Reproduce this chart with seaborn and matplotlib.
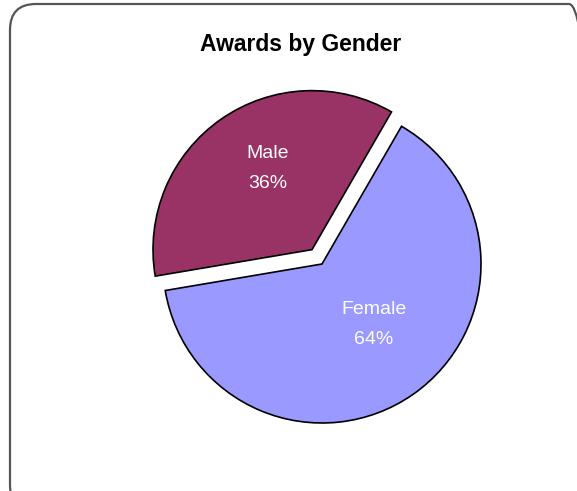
import matplotlib
matplotlib.use("Agg")
import matplotlib.pyplot as plt
import seaborn as sns
import numpy as np
from matplotlib.patches import FancyBboxPatch

categories = ["Male", "Female"]
values = [36, 64]
colors = ["#993366", "#9999FF"]
title = "Awards by Gender"

sns.set_theme(style="white")
plt.rcParams['font.family'] = ['Liberation Sans', 'DejaVu Sans']

W, H = 577, 491
fig = plt.figure(figsize=(W / 100, H / 100), dpi=100)

# rounded border (partly cropped by the figure edge)
border = FancyBboxPatch((10 / W, -20 / H), 585 / W, (H - 4 + 20) / H,
                        boxstyle="round,pad=0,rounding_size=0.045",
                        transform=fig.transFigure, fill=False,
                        edgecolor="#555555", linewidth=1.6,
                        mutation_aspect=W / H)
fig.patches.append(border)

r_px = 159
cx, cy = 322, 264
half = 1.2 * r_px
ax = fig.add_axes([(cx - half) / W, (H - cy - half) / H, 2 * half / W, 2 * half / H])

wedges, _ = ax.pie(values, colors=colors, startangle=60, counterclock=True,
                   explode=[0.11, 0], labels=None,
                   wedgeprops=dict(edgecolor="black", linewidth=1.2))
ax.set_xlim(-1.2, 1.2)
ax.set_ylim(-1.2, 1.2)
ax.set_aspect("equal")
ax.axis("off")

# label placement (radial distance, angular shift from wedge middle)
label_dist = [0.58, 0.5]
label_shift = [-6, 6]
for w, cat, v, d, s in zip(wedges, categories, values, label_dist, label_shift):
    ang = np.deg2rad((w.theta1 + w.theta2) / 2 + s)
    x0, y0 = w.center
    ax.text(x0 + d * np.cos(ang), y0 + d * np.sin(ang), f"{cat}\n{v}%",
            ha="center", va="center", color="white", fontsize=14,
            linespacing=2.0)

fig.text(301 / W, 1 - 45 / H, title, ha="center", va="center",
         fontsize=16.5, fontweight="bold", color="black")

fig.savefig("out.png", dpi=100)
